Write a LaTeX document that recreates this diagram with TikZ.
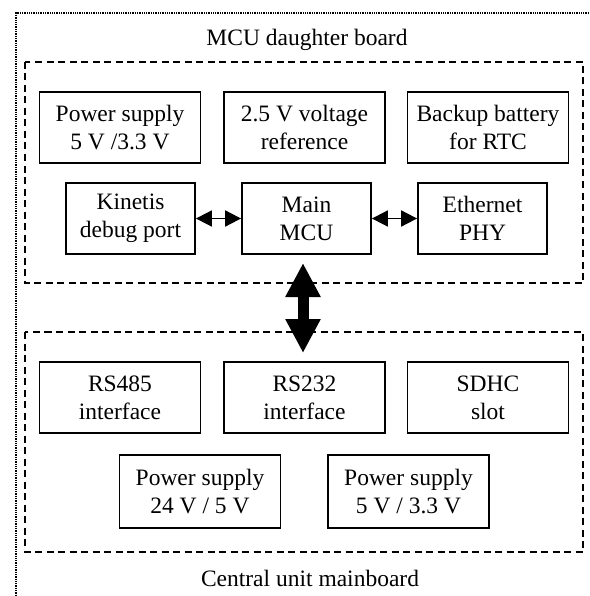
\documentclass[tikz,border=0pt]{standalone}
\usepackage{fontspec}
\setmainfont{Liberation Serif}
\usetikzlibrary{arrows.meta}
\begin{document}
\begin{tikzpicture}[x=1pt,y=-1pt,
  blk/.style={draw,line width=1.8pt,align=center,inner sep=0pt,
    minimum width=161pt,minimum height=71pt,
    font=\fontsize{23.5}{28}\selectfont},
  blks/.style={blk,minimum width=129pt},
  grp/.style={draw,line width=1.8pt,dash pattern=on 7pt off 4.5pt},
  lbl/.style={font=\fontsize{23.5}{28}\selectfont,inner sep=0pt},
  small/.style={line width=1.8pt,{Triangle[width=16pt,length=16pt]}-{Triangle[width=16pt,length=16pt]}},
  big/.style={line width=11pt,{Triangle[width=33pt,length=34pt]}-{Triangle[width=33pt,length=34pt]},shorten <=9pt,shorten >=9pt}]
\useasboundingbox (0,0) rectangle (589,596);
% outer frame
\draw[line width=1.3pt,densely dotted] (589,13) -- (16,13) -- (16,596);
% groups
\draw[grp] (25,62) rectangle (583,283);
\draw[grp] (25,332) rectangle (583,552);
\node[lbl] (t1) at (307,40) {MCU daughter board};
\node[lbl] (t2) at (310,578) {Central unit mainboard};
% upper
\node[blk] (ps1) at (120,127.5) {Power supply\\5 V /3.3 V};
\node[blk] (ref) at (304.5,127.5) {2.5 V voltage\\reference};
\node[blk] (bat) at (488,127.5) {Backup battery\\for RTC};
\node[blks] (kin) at (130.5,218.5) {Kinetis\\debug port};
\node[blks] (mcu) at (306.5,218.5) {Main\\MCU};
\node[blks] (eth) at (482.5,218.5) {Ethernet\\PHY};
\draw[small] (kin) -- (mcu);
\draw[small] (mcu) -- (eth);
% lower
\node[blk] (rs485) at (120,397.5) {RS485\\interface};
\node[blk] (rs232) at (304.5,397.5) {RS232\\interface};
\node[blk] (sdhc) at (488,397.5) {SDHC\\slot};
\node[blk,minimum height=73pt] (ps24) at (200,491.5) {Power supply\\24 V / 5 V};
\node[blk,minimum height=73pt] (ps5) at (408.5,491.5) {Power supply\\5 V / 3.3 V};
\coordinate (bt) at (303,254);
\coordinate (bb) at (303,362);
\draw[big] (bt) -- (bb);
\end{tikzpicture}
\end{document}
